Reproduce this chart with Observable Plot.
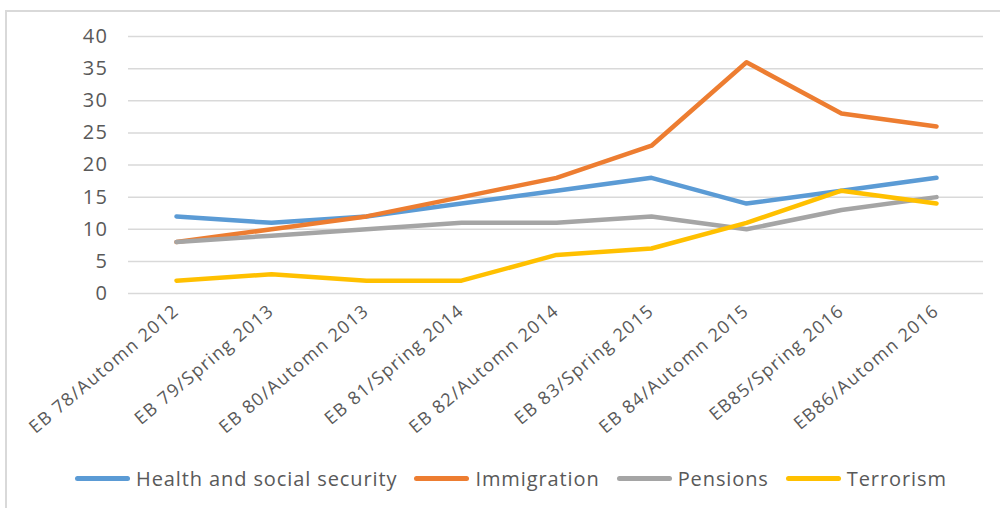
<!DOCTYPE html>
<html>
<head>
<meta charset="utf-8">
<script src="https://cdn.jsdelivr.net/npm/d3@7"></script>
<script src="https://cdn.jsdelivr.net/npm/@observablehq/plot@0.6"></script>
<style>
  html, body { margin: 0; padding: 0; background: #fff; width: 1000px; height: 508px; overflow: hidden; }
  #wrap { position: relative; width: 1000px; height: 508px; font-family: "Open Sans", sans-serif; }
  #frame { position: absolute; left: 5px; top: 10px; width: 1010px; height: 520px; border: 2px solid #d9d9d9; box-sizing: border-box; }
  #chart { position: absolute; left: 0; top: 0; }
  #legend { position: absolute; left: 75px; top: 465px; width: 920px; display: flex; justify-content: flex-start; align-items: center; gap: 17px; font-size: 20px; letter-spacing: 0.9px; color: #595959; }
  .item { display: flex; align-items: center; gap: 6px; }
  .sw { width: 55px; height: 5px; border-radius: 3px; }
  .xlab text { letter-spacing: 1.3px; }
  .ylab text { letter-spacing: 1.5px; }
</style>
</head>
<body>
<div id="wrap">
  <div id="frame"></div>
  <div id="chart"></div>
  <div id="legend"></div>
</div>
<script>
const categories = ["EB 78/Automn 2012", "EB 79/Spring 2013", "EB 80/Automn 2013", "EB 81/Spring 2014", "EB 82/Automn 2014", "EB 83/Spring 2015", "EB 84/Automn 2015", "EB85/Spring 2016", "EB86/Automn 2016"];
const seriesNames = ["Health and social security", "Immigration", "Pensions", "Terrorism"];
const health = [12, 11, 12, 14, 16, 18, 14, 16, 18];
const immigration = [8, 10, 12, 15, 18, 23, 36, 28, 26];
const pensions = [8, 9, 10, 11, 11, 12, 10, 13, 15];
const terrorism = [2, 3, 2, 2, 6, 7, 11, 16, 14];
const yTicks = [0, 5, 10, 15, 20, 25, 30, 35, 40];
const colors = ["#5b9bd5", "#ed7d31", "#a5a5a5", "#ffc000"];

const seriesValues = [health, immigration, pensions, terrorism];
const data = [];
seriesNames.forEach((s, i) => {
  categories.forEach((c, j) => data.push({series: s, cat: c, value: seriesValues[i][j]}));
});

const chart = Plot.plot({
  width: 1000,
  height: 455,
  marginTop: 36,
  marginBottom: 162,
  marginLeft: 128,
  marginRight: 17,
  style: { fontFamily: "Open Sans, sans-serif", background: "transparent" },
  x: { type: "point", domain: categories, padding: 0.5 },
  y: { domain: [0, 40] },
  color: { domain: seriesNames, range: colors },
  marks: [
    Plot.gridY(yTicks, { stroke: "#d9d9d9", strokeOpacity: 1, strokeWidth: 1.5 }),
    Plot.axisY(yTicks, { tickSize: 0, tickPadding: 20, fontSize: 20, fill: "#595959", label: null, className: "ylab" }),
    Plot.axisX({ tickSize: 0, tickPadding: 15, tickRotate: -40, fontSize: 18, fill: "#595959", label: null, className: "xlab" }),
    Plot.line(data, { x: "cat", y: "value", z: "series", stroke: "series", strokeWidth: 4.5, strokeLinejoin: "round", strokeLinecap: "round" })
  ]
});
document.getElementById("chart").appendChild(chart);

const legend = document.getElementById("legend");
seriesNames.forEach((s, i) => {
  const item = document.createElement("div");
  item.className = "item";
  const sw = document.createElement("div");
  sw.className = "sw";
  sw.style.background = colors[i];
  const t = document.createElement("span");
  t.textContent = s;
  item.appendChild(sw);
  item.appendChild(t);
  legend.appendChild(item);
});
</script>
</body>
</html>
